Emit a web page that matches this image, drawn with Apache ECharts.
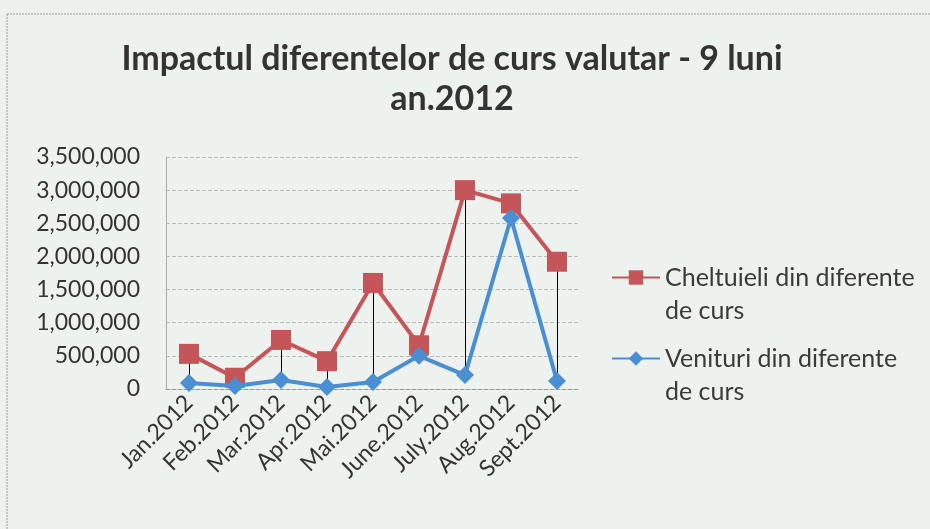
<!DOCTYPE html>
<html>
<head>
<meta charset="utf-8">
<script src="https://cdn.jsdelivr.net/npm/echarts@6/dist/echarts.min.js"></script>
<style>
  html, body { margin: 0; padding: 0; background: #eef2ee; }
  #chart { width: 930px; height: 529px; }
</style>
</head>
<body>
<div id="chart"></div>
<script>
const months = ['Jan.2012', 'Feb.2012', 'Mar.2012', 'Apr.2012', 'Mai.2012', 'June.2012', 'July.2012', 'Aug.2012', 'Sept.2012'];
const cheltuieli = [530000, 170000, 740000, 420000, 1600000, 660000, 3000000, 2800000, 1920000];
const venituri = [90000, 45000, 135000, 30000, 105000, 500000, 210000, 2580000, 120000];

const FONT = 'Lato';
const RED = '#c4565a';
const BLUE = '#4a8fd2';
const chart = echarts.init(document.getElementById('chart'), null, { renderer: 'canvas' });

// one legend per series; a blank first line keeps the icon level with the first text line
const legendItem = (name, top) => ({
  orient: 'vertical',
  left: 606,
  top: top,
  itemWidth: 48,
  itemHeight: 18,
  data: [name],
  formatter: n => ' \n' + n.replace(' de curs', '\nde curs'),
  textStyle: { fontFamily: FONT, fontSize: 25, color: '#3a3a3a', lineHeight: 33 }
});

chart.setOption({
  backgroundColor: '#eef2ee',
  animation: false,
  title: {
    text: 'Impactul diferentelor de curs valutar - 9 luni\nan.2012',
    left: 447,
    top: 34,
    textAlign: 'center',
    textStyle: { fontFamily: FONT, fontSize: 34, fontWeight: 'bold', color: '#333', lineHeight: 40 }
  },
  graphic: [{
    type: 'rect',
    shape: { x: 7, y: 14, width: 1000, height: 600 },
    style: { fill: 'none', stroke: '#999', lineWidth: 1, lineDash: [2, 1] },
    silent: true
  }],
  legend: [
    legendItem('Cheltuieli din diferente de curs', 223),
    legendItem('Venituri din diferente de curs', 304)
  ],
  grid: { left: 166, right: 350, top: 157, bottom: 140 },
  xAxis: {
    type: 'category',
    data: months,
    boundaryGap: true,
    axisLine: { lineStyle: { color: '#999', type: 'dashed' } },
    axisTick: { show: false },
    axisLabel: { rotate: 45, interval: 0, fontFamily: FONT, fontSize: 23, color: '#333', margin: 10 }
  },
  yAxis: {
    type: 'value',
    min: 0,
    max: 3500000,
    interval: 500000,
    axisLine: { show: true, lineStyle: { color: '#aaa' } },
    axisTick: { show: false },
    splitLine: { lineStyle: { color: '#bbb', type: 'dashed' } },
    axisLabel: {
      fontFamily: FONT, fontSize: 23, color: '#333', margin: 26,
      formatter: v => v.toLocaleString('en-US')
    }
  },
  series: [
    {
      name: 'drop',
      type: 'custom',
      silent: true,
      z: 1,
      data: months.map((m, i) => [i, cheltuieli[i], venituri[i]]),
      renderItem: (params, api) => {
        const top = api.coord([api.value(0), api.value(1)]);
        const bot = api.coord([api.value(0), api.value(2)]);
        const x = Math.round(top[0]) + 0.5;
        return {
          type: 'line',
          shape: { x1: x, y1: top[1], x2: x, y2: bot[1] },
          style: { stroke: '#000', lineWidth: 1 }
        };
      }
    },
    {
      name: 'Cheltuieli din diferente de curs',
      type: 'line',
      data: cheltuieli,
      z: 3,
      symbol: 'rect',
      symbolSize: 20,
      lineStyle: { color: RED, width: 4 },
      itemStyle: { color: RED }
    },
    {
      name: 'Venituri din diferente de curs',
      type: 'line',
      data: venituri,
      z: 4,
      symbol: 'diamond',
      symbolSize: 18,
      lineStyle: { color: BLUE, width: 4 },
      itemStyle: { color: BLUE }
    }
  ]
});
</script>
</body>
</html>
